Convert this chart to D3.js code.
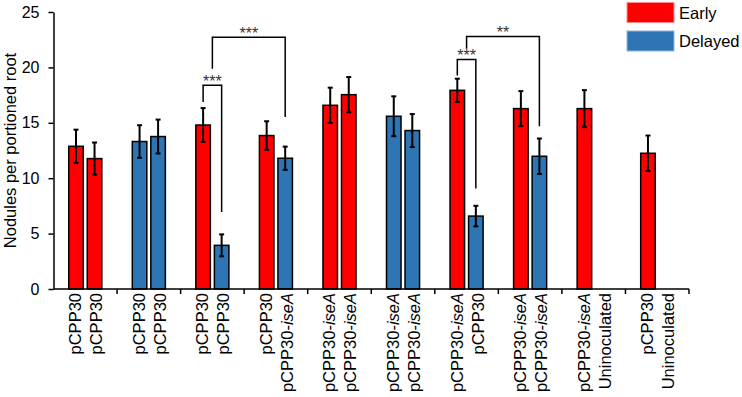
<!DOCTYPE html>
<html>
<head>
<meta charset="utf-8">
<script src="https://cdn.jsdelivr.net/npm/d3@7"></script>
<style>
  html, body { margin: 0; padding: 0; background: #fff; }
  svg { display: block; font-family: "Liberation Sans", Arial, sans-serif; }
</style>
</head>
<body>
<div id="chart"></div>
<script>
// one category per pair of bars; first/second line of the label go with left/right bar
const labelsLeft= ['pCPP30', 'pCPP30', 'pCPP30', 'pCPP30', 'pCPP30-iseA', 'pCPP30-iseA', 'pCPP30-iseA', 'pCPP30-iseA', 'pCPP30-iseA', 'pCPP30'];
const labelsRight= ['pCPP30', 'pCPP30', 'pCPP30', 'pCPP30-iseA', 'pCPP30-iseA', 'pCPP30-iseA', 'pCPP30', 'pCPP30-iseA', 'Uninoculated', 'Uninoculated'];
const timingLeft= ['Early', 'Delayed', 'Early', 'Early', 'Early', 'Delayed', 'Early', 'Early', 'Early', 'Early'];
const timingRight= ['Early', 'Delayed', 'Delayed', 'Delayed', 'Early', 'Delayed', 'Delayed', 'Delayed', null, null];
const meansLeft= [12.88, 13.31, 14.8, 13.85, 16.58, 15.59, 17.93, 16.28, 16.28, 12.25];
const meansRight= [11.77, 13.76, 3.94, 11.8, 17.54, 14.3, 6.58, 11.98, null, null];
const errLeft= [1.5, 1.47, 1.53, 1.29, 1.59, 1.8, 1.05, 1.58, 1.67, 1.6];
const errRight= [1.45, 1.53, 0.99, 1.05, 1.59, 1.49, 0.93, 1.6, null, null];

const yTicks= [0, 5, 10, 15, 20, 25];
const legendItems= ['Early', 'Delayed'];
const COLORS= { Early: '#ff0000', Delayed: '#2e75b6' };
const LEGEND_STROKE= { Early: '#ff8a8a', Delayed: '#8fb5dc' };

// significance brackets: a/b are [group, slot] (slot 0.5 = middle of the pair), heights in y units
const brackets= [
  { a: [2, 0], b: [2, 1], top: 18.38, aEnd: 16.87, bEnd: 6.96, label: '***' },
  { a: [2, 0.5], b: [3, 1], top: 22.73, aEnd: 19.88, bEnd: 15.52, label: '***' },
  { a: [6, 0], b: [6, 1], top: 20.72, aEnd: 19.28, bEnd: 9.07, label: '***' },
  { a: [6, 0.5], b: [7, 1], top: 22.79, aEnd: 21.68, bEnd: 14.68, label: '**' },
];

const W= 742, H= 397;
const PLOT= { left: 53.5, right: 689, top: 12, bottom: 289 };

const bars= [];
labelsLeft.forEach((_, i) => {
  if (meansLeft[i] != null) bars.push({ g: i, slot: 0, val: meansLeft[i], err: errLeft[i], timing: timingLeft[i] });
  if (meansRight[i] != null) bars.push({ g: i, slot: 1, val: meansRight[i], err: errRight[i], timing: timingRight[i] });
});

const svg= d3.select('#chart').append('svg')
  .attr('width', W).attr('height', H);

const x0= d3.scaleBand().domain(d3.range(labelsLeft.length)).range([PLOT.left, PLOT.right]);
const x1= d3.scaleBand().domain([0, 1]).range([15.25, x0.bandwidth()-15.25]).paddingInner(0.216);
const y= d3.scaleLinear().domain([0, 25]).range([PLOT.bottom, PLOT.top]);

const slotX= (g, slot) => {
  const c0= x0(g)+x1(0)+x1.bandwidth()/2;
  const c1= x0(g)+x1(1)+x1.bandwidth()/2;
  return c0+(c1-c0)*slot;
};

// bars
svg.append('g').selectAll('rect').data(bars).join('rect')
  .attr('x', d => x0(d.g)+x1(d.slot))
  .attr('y', d => y(d.val))
  .attr('width', x1.bandwidth())
  .attr('height', d => y(0)-y(d.val))
  .attr('fill', d => COLORS[d.timing])
  .attr('stroke', '#000')
  .attr('stroke-width', 1.5);

// error bars
const eb= svg.append('g').attr('stroke', '#000').attr('stroke-width', 2);
bars.forEach(d => {
  const cx= slotX(d.g, d.slot);
  eb.append('line').attr('x1', cx).attr('x2', cx).attr('y1', y(d.val+d.err)).attr('y2', y(d.val-d.err));
  eb.append('line').attr('x1', cx-2.5).attr('x2', cx+2.5).attr('y1', y(d.val+d.err)).attr('y2', y(d.val+d.err));
  eb.append('line').attr('x1', cx-2.5).attr('x2', cx+2.5).attr('y1', y(d.val-d.err)).attr('y2', y(d.val-d.err));
});

// y axis
svg.append('g')
  .attr('transform', `translate(${PLOT.left},0)`)
  .call(d3.axisLeft(y).tickValues(yTicks).tickSize(5).tickPadding(9).tickSizeOuter(0))
  .call(a => a.select('.domain').attr('stroke-width', 1.5))
  .call(a => a.selectAll('.tick line').attr('stroke-width', 1.5))
  .call(a => a.selectAll('text').attr('font-size', 16).attr('fill', '#000').attr('font-family', null));

// x axis line with ticks between categories
const xa= svg.append('g').attr('stroke', '#000').attr('stroke-width', 1.5);
xa.append('line').attr('x1', PLOT.left).attr('x2', PLOT.right).attr('y1', y(0)).attr('y2', y(0));
[...x0.domain().slice(1).map(g => x0(g)), PLOT.right].forEach(tx => {
  xa.append('line').attr('x1', tx).attr('x2', tx).attr('y1', y(0)).attr('y2', y(0)+5);
});

// category labels, two rotated lines each
const addLabel= (sel, txt) => {
  const m= txt.match(/^(.*-)(iseA)$/);
  if (m) {
    sel.append('tspan').text(m[1]);
    sel.append('tspan').attr('font-style', 'italic').text(m[2]);
  } else {
    sel.text(txt);
  }
};
const labG= svg.append('g');
labelsLeft.forEach((lab, i) => {
  const cx= x0(i)+x0.bandwidth()/2;
  [[lab, -9.5], [labelsRight[i], 11.5]].forEach(([t, off]) => {
    const txt= labG.append('text')
      .attr('transform', `translate(${cx+off+5.5},${y(0)+4}) rotate(-90)`)
      .attr('text-anchor', 'end')
      .attr('font-size', 16.5)
      .attr('fill', '#000');
    addLabel(txt, t);
  });
});

// y axis title
svg.append('text')
  .attr('transform', `translate(16,${(PLOT.top+PLOT.bottom)/2}) rotate(-90)`)
  .attr('text-anchor', 'middle')
  .attr('font-size', 16.5)
  .attr('fill', '#000')
  .text('Nodules per portioned root');

// significance brackets
const br= svg.append('g');
brackets.forEach(b => {
  const xa_= slotX(b.a[0], b.a[1]);
  const xb_= slotX(b.b[0], b.b[1]);
  br.append('path')
    .attr('d', `M${xa_},${y(b.aEnd)}V${y(b.top)}H${xb_}V${y(b.bEnd)}`)
    .attr('fill', 'none')
    .attr('stroke', '#000')
    .attr('stroke-width', 1.5);
  br.append('text')
    .attr('x', (xa_+xb_)/2)
    .attr('y', y(b.top)+2)
    .attr('text-anchor', 'middle')
    .attr('font-size', 16)
    .attr('fill', '#333')
    .text(b.label);
});

// legend
const lg= svg.append('g');
legendItems.forEach((k, i) => {
  const ly= 2.5+i*28.5;
  lg.append('rect')
    .attr('x', 627).attr('y', ly)
    .attr('width', 47).attr('height', 20)
    .attr('fill', COLORS[k])
    .attr('stroke', LEGEND_STROKE[k])
    .attr('stroke-width', 1);
  lg.append('text')
    .attr('x', 679).attr('y', ly+16)
    .attr('font-size', 16.5)
    .attr('fill', '#000')
    .text(k);
});
</script>
</body>
</html>
